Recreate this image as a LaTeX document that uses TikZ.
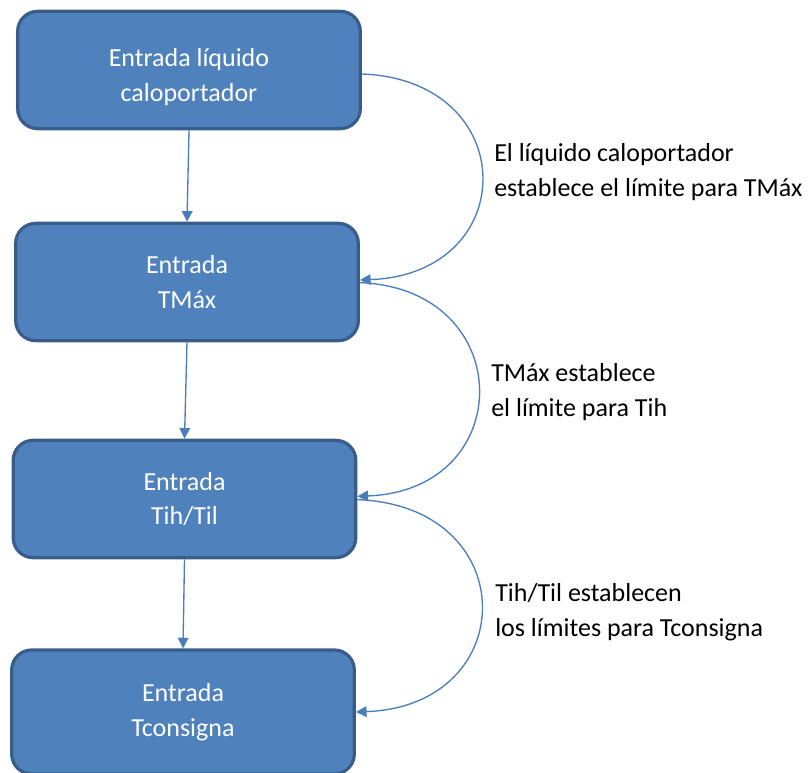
\documentclass[tikz,border=0pt]{standalone}
\usepackage{fontspec}
\setmainfont{Carlito}
\usetikzlibrary{arrows.meta,calc}
\definecolor{boxfill}{HTML}{4F81BD}
\definecolor{boxline}{HTML}{385D8A}
\definecolor{arr}{HTML}{4A7EBB}
\begin{document}
\begin{tikzpicture}[x=0.75pt,y=-0.75pt,
  box/.style={draw=boxline,line width=2.4pt,fill=boxfill,rounded corners=15pt,
    minimum width=257pt,minimum height=88pt,inner sep=0pt,text=white,
    font=\fontsize{19.5}{26}\selectfont,align=center},
  lbl/.style={anchor=west,align=left,inner sep=0pt,font=\fontsize{19.5}{26}\selectfont},
  conn/.style={draw=arr,line width=1pt,-{Triangle[length=8pt,width=8pt]}}]
\useasboundingbox (0,0) rectangle (808,773);
\node[box] (b1) at (189,70) {\rule{0pt}{24pt}Entrada líquido\\caloportador};
\node[box] (b2) at (187,282) {Entrada\\TMáx};
\node[box] (b3) at (184.5,499) {Entrada\\Tih/Til};
\node[box,minimum height=93pt] (b4) at (183,712) {Entrada\\Tconsigna};
\draw[conn] (b1.south) -- (b2.north);
\draw[conn] (b2.south) -- (b3.north);
\draw[conn] (b3.south) -- (b4.north);
\coordinate (s1) at ([yshift=-3pt]b1.east);
\coordinate (e1) at ([yshift=1.5pt]b2.east);
\coordinate (s2) at ([yshift=-0.5pt]b2.east);
\coordinate (e2) at ([yshift=2pt]b3.east);
\coordinate (s3) at ([yshift=-0.5pt]b3.east);
\coordinate (e3) at ([yshift=0pt]b4.east);
\draw[conn] (s1) .. controls ($(s1)+(160,6)$) and ($(e1)+(162,-6)$) .. (e1);
\draw[conn] (s2) .. controls ($(s2)+(158,6)$) and ($(e2)+(161,-6)$) .. (e2);
\draw[conn] (s3) .. controls ($(s3)+(166,6)$) and ($(e3)+(166,-6)$) .. (e3);
\node[lbl] (l1) at (494,172) {El líquido caloportador\\establece el límite para TMáx};
\node[lbl] (l2) at (491,392) {TMáx establece\\el límite para Tih};
\node[lbl] (l3) at (495,612) {Tih/Til establecen\\los límites para Tconsigna};
\end{tikzpicture}
\end{document}
